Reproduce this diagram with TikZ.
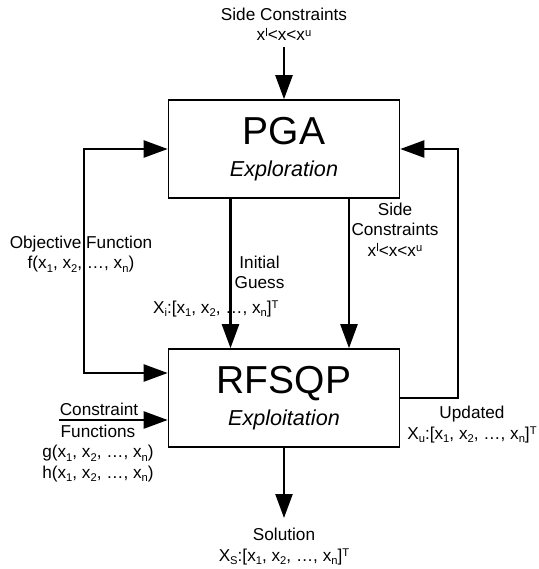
\documentclass[tikz,border=0pt]{standalone}
\usepackage{fontspec}
\setmainfont{Liberation Sans}
\usepackage{tikz}
\usetikzlibrary{positioning,arrows.meta}
\newcommand{\sups}[1]{\raisebox{2.4pt}{\fontsize{5.6}{6}\selectfont #1}}
\newcommand{\subs}[1]{\raisebox{-1.6pt}{\fontsize{5.6}{6}\selectfont #1}}
\newcommand{\xlist}{x\subs{1}, x\subs{2}, …, x\subs{n}}
\newcommand{\xbounds}{x\sups{l}<x<x\sups{u}}
\tikzset{
    flowblock/.style={draw, line width=0.8pt, minimum width=115.5pt, minimum height=49pt, align=center, font=\fontsize{10.8}{16}\selectfont},
    flowlabel/.style={align=center, inner sep=0pt, font=\fontsize{8.6}{10.3}\selectfont},
    flowarrow/.style={draw, line width=1.2pt, -{Triangle[length=12pt, width=8.5pt]}},
    flowboth/.style={flowarrow, {Triangle[length=12pt, width=8.5pt]}-{Triangle[length=12pt, width=8.5pt]}}
}
\begin{document}
\begin{tikzpicture}[x=0.5pt, y=-0.5pt]
    \useasboundingbox (0,0) rectangle (539,569);

    \node[flowblock] (pga) at (284,149) {{\fontsize{19.5}{16}\selectfont PGA}\\{\itshape Exploration}};
    \node[flowblock, below=74.7pt of pga] (rfsqp) {{\fontsize{19.5}{16}\selectfont RFSQP}\\{\itshape Exploitation}};

    % labels
    \node[flowlabel, anchor=north] (sidetop) at (284,7.4) {Side Constraints\\\xbounds};
    \node[flowlabel, anchor=north] (sidemid) at (395,202.4) {Side\\Constraints\\\xbounds};
    \node[flowlabel, anchor=north] (objfn) at (81,235.4) {Objective Function\\f(\xlist)};
    \node[flowlabel, anchor=north] (guess) at (259.5,255.4) {Initial\\Guess};
    \node[flowlabel, anchor=base] (xinit) at (215.8,313.5) {X\subs{i}:[\xlist]\sups{T}};
    \node[flowlabel, anchor=base] (cfup) at (99,415) {Constraint};
    \node[flowlabel, anchor=north] (cfdown) at (98,424.4) {Functions\\g(\xlist)\\h(\xlist)};
    \node[flowlabel, anchor=north] (updated) at (472,405.9) {Updated\\X\subs{u}:[\xlist]\sups{T}};
    \node[flowlabel, anchor=north] (solution) at (284,528) {Solution\\X\subs{S}:[\xlist]\sups{T}};

    \coordinate (lloop) at (84,260);
    \coordinate (rloop) at (458,270);
    \coordinate (cfin) at (59,420);

    \draw[flowarrow, shorten <=2.7pt] (sidetop) -- (pga);
    \draw[flowboth] (pga.west) -| (lloop) |- ([yshift=12.5pt]rfsqp.west);
    \draw[flowarrow] ([xshift=-26.75pt]pga.south) -- ([xshift=-26.75pt]rfsqp.north);
    \draw[flowarrow] ([xshift=32.5pt]pga.south) -- ([xshift=32.5pt]rfsqp.north);
    \draw[flowarrow] (rfsqp.east) -| (rloop) |- (pga.east);
    \draw[flowarrow] (cfin) -- (cfin -| rfsqp.west);
    \draw[flowarrow, shorten >=5pt] (rfsqp) -- (solution);
\end{tikzpicture}
\end{document}
